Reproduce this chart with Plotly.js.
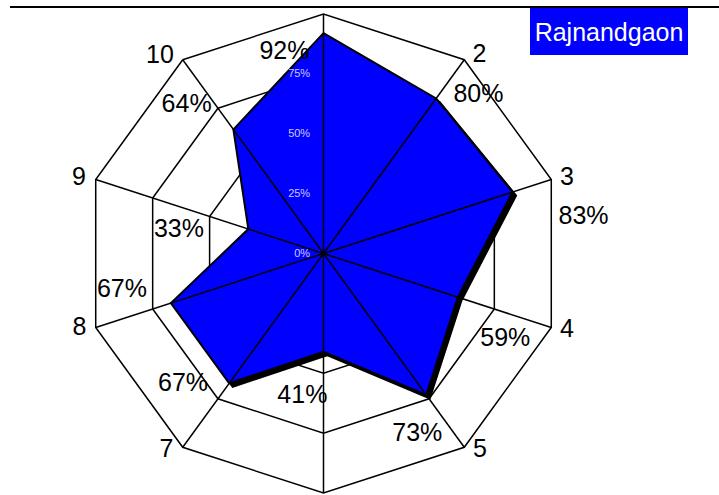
<!DOCTYPE html>
<html>
<head>
<meta charset="utf-8">
<script src="https://cdn.plot.ly/plotly-3.0.1.min.js"></script>
<style>
  html, body { margin: 0; padding: 0; overflow: hidden; background: #fff; width: 719px; height: 495px; }
  #wrap { position: relative; width: 719px; height: 495px; overflow: hidden; }
  #chart { position: absolute; left: 0; top: -50px; width: 719px; height: 600px; }
</style>
</head>
<body>
<div id="wrap"><div id="chart"></div></div>
<script>
// ---- data ----
const categories = ['1', '2', '3', '4', '5', '6', '7', '8', '9', '10'];
const values = [92, 80, 83, 59, 73, 41, 67, 67, 33, 64];
const seriesName = 'Rajnandgaon';
const radialTicks = [0, 25, 50, 75, 100];
// placement of the percentage labels (radius in % of the radial scale, angle in degrees clockwise from top)
const labelR = [85.4, 92.3, 109.6, 84.1, 85.4, 60.3, 80.3, 85.6, 61.1, 84.1];
const labelTheta = [349, 44.5, 82.2, 115.5, 152.7, 188.4, 226.9, 259.4, 278.9, 317.2];
// placement of the category labels outside the frame
const catLabelR = [108, 105.1, 106.4, 106.6, 105.2, 106, 105.3, 106.7, 106.8, 106.9];
const catLabelTheta = [0, 38.3, 72.9, 107.5, 141.6, 180, 218.5, 252.8, 287, 320.3];

// ---- geometry (pixels; the figure is shifted up by OFF inside the window) ----
const W = 719, H = 600, OFF = 50;
const cx = 323.5, cy = 253.5 + OFF, R = 239.5;
const shadowDx = 3.5, shadowDy = 3.5;
const LABEL_SCALE = 1.2;          // label subplot radial range is 120 -> larger radius
function dom(dx, dy, k) {
  k = k || 1;
  return {
    x: [(cx - R * k + dx) / W, (cx + R * k + dx) / W],
    y: [1 - (cy + R * k + dy) / H, 1 - (cy - R * k + dy) / H]
  };
}

const FONT = 'Liberation Sans, Arial, sans-serif';
const rClosed = values.concat([values[0]]);
const tClosed = categories.concat([categories[0]]);
const catAngles = categories.map((c, i) => i * 360 / categories.length);

const catAxis = {
  type: 'category', categoryorder: 'array', categoryarray: categories,
  rotation: 90, direction: 'clockwise'
};

const traces = [
  { // base grid subplot
    type: 'scatterpolar', subplot: 'polar', r: values, theta: categories,
    mode: 'none', hoverinfo: 'skip', showlegend: false
  },
  { // shadow
    type: 'scatterpolar', subplot: 'polar2', r: rClosed, theta: tClosed,
    mode: 'lines', fill: 'toself', fillcolor: '#000000',
    line: { color: '#000000', width: 2 }, hoverinfo: 'skip', showlegend: false
  },
  { // main series
    type: 'scatterpolar', subplot: 'polar3', r: rClosed, theta: tClosed,
    name: seriesName, mode: 'lines', fill: 'toself', fillcolor: '#0000ff',
    line: { color: '#000000', width: 2 }, showlegend: false
  },
  { // spokes holder
    type: 'scatterpolar', subplot: 'polar4', r: [0], theta: [0],
    mode: 'none', hoverinfo: 'skip', showlegend: false
  },
  { // value labels
    type: 'scatterpolar', subplot: 'polar5', r: labelR, theta: labelTheta,
    mode: 'text', text: values.map(v => v + '%'), textposition: 'middle center',
    textfont: { family: FONT, size: 25, color: '#000000' },
    cliponaxis: false, hoverinfo: 'skip', showlegend: false
  },
  { // category labels
    type: 'scatterpolar', subplot: 'polar5', r: catLabelR, theta: catLabelTheta,
    mode: 'text', text: categories, textposition: 'middle center',
    textfont: { family: FONT, size: 25, color: '#000000' },
    cliponaxis: false, hoverinfo: 'skip', showlegend: false
  }
];

const hiddenPolar = (d) => ({
  domain: d, bgcolor: 'rgba(0,0,0,0)', gridshape: 'linear',
  angularaxis: Object.assign({}, catAxis, { visible: false }),
  radialaxis: { range: [0, 100], visible: false }
});

const layout = {
  width: W, height: H,
  margin: { l: 0, r: 0, t: 0, b: 0, pad: 0 },
  paper_bgcolor: '#ffffff',
  font: { family: FONT, color: '#000000' },
  showlegend: false,
  polar: {
    domain: dom(0, 0), bgcolor: '#ffffff', gridshape: 'linear',
    angularaxis: Object.assign({}, catAxis, {
      showgrid: false, showline: true, linecolor: '#000000', linewidth: 1.5,
      ticks: '', showticklabels: false
    }),
    radialaxis: {
      range: [0, 100], tickvals: radialTicks, showgrid: true,
      gridcolor: '#000000', gridwidth: 1.5, showticklabels: false,
      showline: false, ticks: ''
    }
  },
  polar2: hiddenPolar(dom(shadowDx, shadowDy)),
  polar3: hiddenPolar(dom(0, 0)),
  polar4: {
    domain: dom(0, 0), bgcolor: 'rgba(0,0,0,0)',
    angularaxis: {
      type: 'linear', thetaunit: 'degrees', rotation: 90, direction: 'clockwise',
      tickmode: 'array', tickvals: catAngles, showgrid: true,
      gridcolor: '#000000', gridwidth: 1.5, showticklabels: false,
      showline: false, ticks: ''
    },
    radialaxis: {
      range: [0, 100], angle: 90, side: 'counterclockwise', tickangle: 90,
      tickmode: 'array', tickvals: radialTicks, ticktext: radialTicks.map(v => v + '%'),
      showgrid: false, showline: false, ticks: 'outside', ticklen: 9,
      tickcolor: 'rgba(0,0,0,0)', layer: 'above traces',
      tickfont: { family: FONT, size: 11, color: 'rgba(255,255,255,0.8)' }
    }
  },
  polar5: {
    domain: dom(0, 0, LABEL_SCALE), bgcolor: 'rgba(0,0,0,0)',
    angularaxis: {
      type: 'linear', thetaunit: 'degrees', rotation: 90, direction: 'clockwise',
      visible: false
    },
    radialaxis: { range: [0, 100 * LABEL_SCALE], visible: false }
  },
  shapes: [
    { type: 'rect', xref: 'paper', yref: 'paper', x0: 0, x1: 1,
      y0: 1 - (7 + OFF) / H, y1: 1, fillcolor: '#ffffff', line: { width: 0 }, layer: 'above' },
    { type: 'line', xref: 'paper', yref: 'paper', x0: 10 / W, x1: 1,
      y0: 1 - (7 + OFF) / H, y1: 1 - (7 + OFF) / H, line: { color: '#000000', width: 2 }, layer: 'above' }
  ],
  annotations: [
    { text: seriesName, xref: 'paper', yref: 'paper',
      x: 530 / W, y: 1 - (8 + OFF) / H, xanchor: 'left', yanchor: 'top',
      showarrow: false, bgcolor: '#0000ff', borderpad: 0, borderwidth: 0,
      width: 158, height: 47, align: 'center', valign: 'middle',
      font: { family: FONT, size: 25, color: '#ffffff' } }
  ]
};

Plotly.newPlot('chart', traces, layout, { displayModeBar: false, staticPlot: true });
</script>
</body>
</html>
